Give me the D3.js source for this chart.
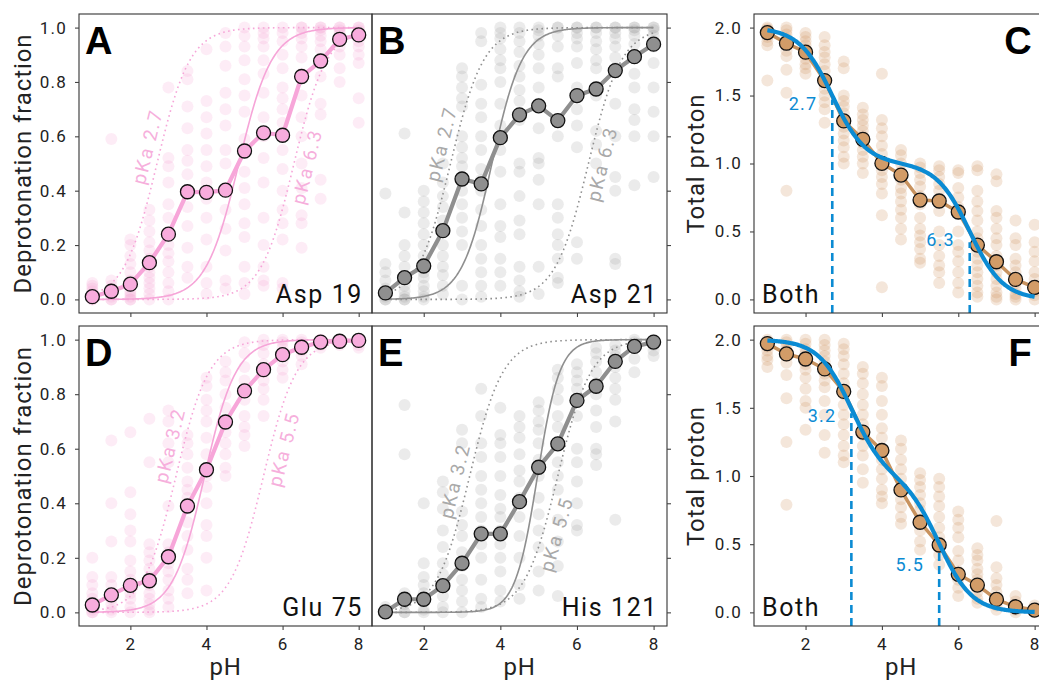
<!DOCTYPE html>
<html>
<head>
<meta charset="utf-8">
<script src="https://cdn.jsdelivr.net/npm/d3@7"></script>
<style>
  body { margin: 0; background: #fff; }
  text { font-family: Roboto, "Noto Sans", sans-serif; }
</style>
</head>
<body>
<div id="my_dataviz"></div>
<script>
// pH steps used in every panel
const phs = [1, 1.5, 2, 2.5, 3, 3.5, 4, 4.5, 5, 5.5, 6, 6.5, 7, 7.5, 8];

// mean values (big circles)
const meanAsp19 = [0.01, 0.03, 0.056, 0.135, 0.24, 0.396, 0.394, 0.402, 0.546, 0.613, 0.604, 0.82, 0.877, 0.957, 0.973];
const meanAsp21 = [0.024, 0.08, 0.123, 0.253, 0.443, 0.425, 0.595, 0.679, 0.712, 0.658, 0.75, 0.774, 0.842, 0.893, 0.939];
const meanBothTop = [1.963, 1.885, 1.819, 1.61, 1.313, 1.178, 1.001, 0.915, 0.731, 0.724, 0.643, 0.4, 0.277, 0.147, 0.088];
const meanGlu75 = [0.027, 0.064, 0.099, 0.116, 0.204, 0.39, 0.523, 0.698, 0.812, 0.89, 0.945, 0.972, 0.991, 0.994, 0.997];
const meanHis121 = [0.002, 0.048, 0.048, 0.098, 0.18, 0.288, 0.288, 0.406, 0.532, 0.618, 0.777, 0.829, 0.92, 0.975, 0.991];
const meanBothBottom = [1.971, 1.895, 1.858, 1.785, 1.62, 1.322, 1.187, 0.898, 0.661, 0.494, 0.279, 0.2, 0.095, 0.041, 0.017];

// individual replicate values, one list per pH
const rawAsp19 = [
  [0, 0, 0.01, 0.01, 0.02, 0.03, 0.04, 0.05, 0.06],
  [0, 0, 0.01, 0.02, 0.03, 0.05, 0.07, 0.59],
  [0, 0, 0.01, 0.02, 0.03, 0.05, 0.07, 0.1, 0.13, 0.16, 0.2, 0.22],
  [0, 0.02, 0.04, 0.06, 0.08, 0.1, 0.12, 0.15, 0.18, 0.21, 0.25, 0.29, 0.33],
  [0, 0.03, 0.06, 0.1, 0.14, 0.17, 0.2, 0.24, 0.3, 0.35, 0.43, 0.49, 0.52, 0.78],
  [0.08, 0.12, 0.19, 0.27, 0.34, 0.4, 0.46, 0.51, 0.55, 0.63, 0.71, 0.81, 0.84],
  [0.02, 0.06, 0.12, 0.22, 0.3, 0.37, 0.43, 0.49, 0.55, 0.61, 0.67, 0.73, 0.92],
  [0.04, 0.07, 0.18, 0.26, 0.33, 0.41, 0.5, 0.55, 0.64, 0.7, 0.76, 0.86, 0.93, 0.98],
  [0.02, 0.06, 0.12, 0.23, 0.28, 0.35, 0.41, 0.47, 0.59, 0.69, 0.75, 0.81, 0.88, 0.93, 0.97, 1.0],
  [0.05, 0.07, 0.12, 0.2, 0.3, 0.43, 0.52, 0.6, 0.67, 0.76, 0.83, 0.88, 0.93, 0.96, 0.98, 1.0],
  [0.04, 0.06, 0.22, 0.28, 0.33, 0.4, 0.48, 0.55, 0.65, 0.7, 0.74, 0.78, 0.85, 0.9, 0.95, 0.98, 1.0],
  [0.19, 0.28, 0.31, 0.41, 0.5, 0.6, 0.67, 0.75, 0.83, 0.89, 0.93, 0.96, 0.98, 1.0, 1.0],
  [0.37, 0.44, 0.68, 0.72, 0.82, 0.88, 0.92, 0.95, 0.97, 0.99, 1.0, 1.0],
  [0.8, 0.85, 0.9, 0.93, 0.96, 0.98, 0.99, 1.0, 1.0],
  [0.65, 0.74, 0.87, 0.9, 0.93, 0.95, 0.97, 0.98, 0.99, 1.0, 1.0]
];
const rawAsp21 = [
  [0, 0, 0.01, 0.02, 0.04, 0.07, 0.1, 0.13, 0.39],
  [0, 0, 0.01, 0.03, 0.05, 0.08, 0.12, 0.16, 0.2, 0.32, 0.61],
  [0, 0.01, 0.03, 0.05, 0.08, 0.1, 0.13, 0.16, 0.2, 0.24, 0.28, 0.32, 0.36, 0.4],
  [0.02, 0.05, 0.09, 0.12, 0.16, 0.2, 0.25, 0.29, 0.34, 0.38, 0.43, 0.5],
  [0, 0.05, 0.2, 0.25, 0.3, 0.35, 0.4, 0.45, 0.49, 0.52, 0.56, 0.6, 0.71, 0.74, 0.78, 0.82, 0.85],
  [0.01, 0.05, 0.1, 0.15, 0.2, 0.27, 0.33, 0.4, 0.44, 0.48, 0.55, 0.6, 0.67, 0.72, 0.79, 0.95, 0.98],
  [0.05, 0.1, 0.15, 0.23, 0.27, 0.35, 0.47, 0.55, 0.64, 0.72, 0.8, 0.85, 0.88, 0.92, 0.96, 0.98, 1.0],
  [0.01, 0.03, 0.07, 0.12, 0.24, 0.29, 0.38, 0.47, 0.5, 0.66, 0.73, 0.77, 0.82, 0.86, 0.91, 0.95, 0.98, 1.0],
  [0.02, 0.12, 0.35, 0.44, 0.5, 0.52, 0.63, 0.72, 0.78, 0.85, 0.9, 0.94, 0.97, 0.99, 1.0],
  [0.06, 0.08, 0.15, 0.2, 0.24, 0.3, 0.35, 0.6, 0.82, 0.85, 0.93, 0.97, 1.0, 1.0],
  [0.15, 0.21, 0.56, 0.64, 0.7, 0.78, 0.87, 0.93, 0.96, 0.98, 1.0, 1.0],
  [0.5, 0.57, 0.62, 0.75, 0.85, 0.88, 0.92, 0.95, 0.98, 1.0, 1.0],
  [0.13, 0.15, 0.4, 0.45, 0.6, 0.72, 0.85, 0.89, 0.93, 0.96, 0.98, 1.0, 1.0],
  [0.42, 0.6, 0.66, 0.7, 0.78, 0.83, 0.9, 0.94, 0.97, 0.99, 1.0, 1.0],
  [0.45, 0.6, 0.69, 0.78, 0.87, 0.93, 0.95, 0.97, 0.99, 1.0, 1.0]
];
const rawBothTop = [
  [1.61, 1.87, 1.9, 1.93, 1.96, 1.98, 1.99, 2.0],
  [0.8, 1.52, 1.69, 1.79, 1.83, 1.88, 1.92, 1.95, 1.98, 2.0],
  [1.66, 1.7, 1.73, 1.77, 1.8, 1.84, 1.87, 1.9, 1.93, 1.96],
  [1.3, 1.4, 1.45, 1.5, 1.55, 1.6, 1.68, 1.73, 1.78, 1.82, 1.87, 1.93],
  [1.0, 1.05, 1.12, 1.17, 1.22, 1.27, 1.32, 1.37, 1.42, 1.46, 1.5, 1.7, 1.75],
  [0.93, 1.0, 1.05, 1.1, 1.15, 1.2, 1.24, 1.28, 1.32, 1.36, 1.41],
  [0.09, 0.62, 0.78, 0.85, 0.9, 0.95, 1.01, 1.07, 1.13, 1.2, 1.26, 1.32, 1.66],
  [0.44, 0.52, 0.6, 0.66, 0.72, 0.78, 0.82, 0.88, 0.94, 1.0, 1.06, 1.1],
  [0.27, 0.3, 0.37, 0.42, 0.47, 0.52, 0.6, 0.7, 0.76, 0.83, 0.88, 0.93, 0.97, 1.0],
  [0.12, 0.2, 0.25, 0.32, 0.4, 0.5, 0.65, 0.72, 0.8, 0.85, 0.9, 0.95, 0.98],
  [0.05, 0.12, 0.2, 0.28, 0.35, 0.4, 0.5, 0.68, 0.75, 0.82, 0.93, 0.95],
  [0.02, 0.05, 0.1, 0.15, 0.2, 0.25, 0.3, 0.35, 0.4, 0.45, 0.5, 0.58, 0.65, 0.72, 0.8, 0.95, 0.98],
  [0, 0.02, 0.05, 0.1, 0.15, 0.2, 0.25, 0.32, 0.4, 0.45, 0.52, 0.6, 0.65, 0.87, 0.92],
  [0, 0.02, 0.04, 0.08, 0.12, 0.2, 0.25, 0.3, 0.4, 0.45, 0.58],
  [0, 0.03, 0.06, 0.1, 0.15, 0.2, 0.28, 0.35, 0.42, 0.55]
];
const rawGlu75 = [
  [0, 0, 0.01, 0.02, 0.03, 0.05, 0.07, 0.1, 0.13, 0.2],
  [0, 0.01, 0.03, 0.05, 0.07, 0.1, 0.13, 0.26, 0.4, 0.63],
  [0, 0.02, 0.05, 0.07, 0.1, 0.12, 0.15, 0.19, 0.26, 0.3, 0.36, 0.44, 0.66],
  [0, 0.01, 0.03, 0.05, 0.07, 0.1, 0.13, 0.16, 0.19, 0.22, 0.25, 0.55, 0.71],
  [0.02, 0.05, 0.08, 0.12, 0.15, 0.18, 0.22, 0.25, 0.39, 0.55, 0.62, 0.7, 0.74],
  [0.07, 0.12, 0.16, 0.23, 0.28, 0.33, 0.38, 0.42, 0.45, 0.48, 0.53, 0.58, 0.62, 0.65],
  [0.08, 0.2, 0.28, 0.32, 0.4, 0.46, 0.5, 0.58, 0.64, 0.7, 0.74, 0.78, 0.83, 0.86],
  [0.5, 0.53, 0.58, 0.62, 0.66, 0.7, 0.75, 0.8, 0.85, 0.88, 0.92],
  [0.61, 0.65, 0.68, 0.72, 0.78, 0.82, 0.85, 0.9, 0.95, 0.99],
  [0.72, 0.78, 0.82, 0.85, 0.88, 0.91, 0.95, 0.98, 1.0],
  [0.86, 0.89, 0.92, 0.95, 0.97, 0.99, 1.0],
  [0.91, 0.94, 0.96, 0.98, 0.99, 1.0],
  [0.97, 0.98, 0.99, 1.0, 1.0],
  [0.98, 0.99, 1.0, 1.0],
  [0.97, 0.98, 0.99, 1.0, 1.0]
];
const rawHis121 = [
  [0, 0, 0.01, 0.02],
  [0, 0, 0.03, 0.07, 0.58, 0.76],
  [0, 0.01, 0.04, 0.07, 0.1, 0.13, 0.18, 0.4],
  [0, 0.02, 0.06, 0.1, 0.14, 0.18, 0.24, 0.3, 0.38, 0.44, 0.48],
  [0, 0.04, 0.08, 0.12, 0.17, 0.22, 0.28, 0.32, 0.37, 0.62, 0.67],
  [0.02, 0.05, 0.12, 0.2, 0.25, 0.3, 0.35, 0.4, 0.45, 0.5, 0.57, 0.62, 0.72, 0.82],
  [0.04, 0.08, 0.15, 0.2, 0.25, 0.3, 0.35, 0.38, 0.43, 0.5, 0.57, 0.62, 0.65, 0.75],
  [0.05, 0.1, 0.2, 0.28, 0.35, 0.42, 0.48, 0.52, 0.58, 0.64, 0.68, 0.72],
  [0.08, 0.15, 0.24, 0.3, 0.36, 0.42, 0.5, 0.56, 0.62, 0.67, 0.7, 0.74, 0.77],
  [0.06, 0.17, 0.26, 0.34, 0.45, 0.5, 0.55, 0.62, 0.68, 0.72, 0.78, 0.82, 0.86, 0.89],
  [0.3, 0.32, 0.4, 0.48, 0.55, 0.6, 0.72, 0.78, 0.82, 0.85, 0.88, 0.91],
  [0.54, 0.58, 0.6, 0.68, 0.74, 0.8, 0.84, 0.88, 0.92, 0.95, 0.97],
  [0.34, 0.7, 0.78, 0.82, 0.86, 0.9, 0.94, 0.96, 0.98],
  [0.88, 0.93, 0.97, 0.99, 1.0],
  [0.94, 0.96, 0.98, 0.99, 1.0]
];
const rawBothBottom = [
  [1.8, 1.85, 1.88, 1.92, 1.95, 1.98, 2.0],
  [0.79, 1.25, 1.57, 1.74, 1.83, 1.88, 1.92, 1.95, 1.98, 2.0],
  [1.34, 1.5, 1.55, 1.64, 1.72, 1.78, 1.82, 1.86, 1.9, 1.93, 1.97, 2.0],
  [1.17, 1.3, 1.45, 1.55, 1.65, 1.7, 1.75, 1.8, 1.84, 1.88, 1.92, 1.96, 2.0],
  [1.1, 1.15, 1.22, 1.3, 1.38, 1.45, 1.52, 1.6, 1.68, 1.75, 1.82, 1.88, 1.93, 1.97],
  [0.95, 1.05, 1.15, 1.22, 1.3, 1.38, 1.45, 1.52, 1.6, 1.68, 1.75, 1.8],
  [0.8, 0.85, 0.9, 0.98, 1.05, 1.12, 1.2, 1.28, 1.35, 1.45, 1.55, 1.66, 1.72],
  [0.65, 0.7, 0.77, 0.83, 0.9, 0.98, 1.05, 1.12, 1.2, 1.26],
  [0.46, 0.52, 0.6, 0.68, 0.75, 0.8, 0.86, 0.92, 0.97, 1.02],
  [0.35, 0.42, 0.48, 0.55, 0.62, 0.7, 0.78, 0.85, 0.92, 0.98],
  [0.12, 0.18, 0.24, 0.3, 0.38, 0.45, 0.55, 0.62, 0.68, 0.74],
  [0.07, 0.1, 0.15, 0.2, 0.24, 0.28, 0.32, 0.38, 0.42, 0.47],
  [0.02, 0.05, 0.1, 0.15, 0.2, 0.25, 0.33, 0.67],
  [0, 0.02, 0.05, 0.08, 0.12],
  [0, 0.02, 0.05]
];

// pKa values of the dotted reference curves and blue model
const pkaTop = [2.7, 6.3];
const pkaBottom = [3.2, 5.5];
// single-site fits (solid thin curves): pKa and hill
const fitPka = [4.85, 3.78, 3.95, 4.97];
const fitHill = [1, 1.1, 1.05, 1.5];
// where the dashed pKa markers stop and their labels sit (total proton)
const dashTopC = [1.47, 0.42];
const dashLabelC = [1.44, 0.44];
const dashTopF = [1.46, 0.44];
const dashLabelF = [1.44, 0.35];
// level on the dotted curve where each "pKa" label sits
const pkaLabelLevel = [[0.55, 0.5], [0.56, 0.51], [0.6, 0.61], [0.47, 0.3]];

const tickFrac = [0, 0.2, 0.4, 0.6, 0.8, 1.0];
const tickProton = [0, 0.5, 1.0, 1.5, 2.0];
const tickPh = [2, 4, 6, 8];

const pink = { pt: "#f49fd4", line: "#f7a6d9", fill: "#f8acdd", curve: "#f6a5d8", label: "#f6afdc" };
const grey = { pt: "#9a9a9a", line: "#8f8f8f", fill: "#8f8f8f", curve: "#8f8f8f", label: "#a9a9a9" };
const brown = { pt: "#cf9863", line: "#c8925e", fill: "#d29c68" };
const blue = "#0b8bd3";

const W = 1039, H = 682;
const svg = d3.select("#my_dataviz").append("svg")
  .attr("width", W).attr("height", H)
  .style("background", "#fff");

const rows = [{ y0: 14, y1: 313 }, { y0: 326, y1: 626 }];
const cols = [{ x0: 79, x1: 372 }, { x0: 372, x1: 667 }, { x0: 754, x1: 1048 }];

const hill = (ph, pka, n) => 1 / (1 + Math.pow(10, n * (pka - ph)));
const curvePh = d3.range(1, 8.0001, 0.025);

function drawPanel(p) {
  const x = d3.scaleLinear().domain([0.65, 8.35]).range([p.col.x0, p.col.x1]);
  const ymax = p.proton ? 2 : 1;
  const y = d3.scaleLinear().domain([-0.05 * ymax, 1.05 * ymax]).range([p.row.y1, p.row.y0]);
  const g = svg.append("g");

  const clipId = "clip" + p.letter;
  g.append("clipPath").attr("id", clipId).append("rect")
    .attr("x", p.col.x0).attr("y", p.row.y0)
    .attr("width", p.col.x1 - p.col.x0).attr("height", p.row.y1 - p.row.y0);
  const plot = g.append("g").attr("clip-path", `url(#${clipId})`);

  // replicate points
  const flat = [];
  p.raw.forEach((vals, i) => vals.forEach(v => flat.push({ ph: phs[i], v: v })));
  plot.append("g").selectAll("circle").data(flat).join("circle")
    .attr("cx", d => x(d.ph)).attr("cy", d => y(d.v)).attr("r", 6)
    .attr("fill", p.theme.pt).attr("fill-opacity", p.proton ? 0.24 : 0.2);

  const line = d3.line().x(d => x(d[0])).y(d => y(d[1]));

  if (!p.proton) {
    // dotted reference curves
    p.pkas.forEach((pk, k) => {
      plot.append("path")
        .datum(curvePh.map(ph => [ph, hill(ph, pk, 1)]))
        .attr("d", line).attr("fill", "none")
        .attr("stroke", p.theme.curve).attr("stroke-width", 1.6)
        .attr("stroke-dasharray", "1.6,3.4");
      // label along the curve
      const lv = p.labelLevel[k];
      const lph = pk + Math.log10(lv / (1 - lv));
      const slope = Math.LN10 * lv * (1 - lv) * (y(0) - y(1)) / (x(1) - x(0));
      const ang = -Math.atan(slope) * 180 / Math.PI;
      plot.append("text")
        .attr("transform", `translate(${x(lph)},${y(lv)}) rotate(${ang})`)
        .attr("text-anchor", "middle")
        .attr("dy", k === 0 ? "-0.35em" : "1.05em")
        .attr("fill", p.theme.label)
        .style("font-size", "19px").style("letter-spacing", "1.8px")
        .text("pKa " + pk);
    });
    // single-site fit
    plot.append("path")
      .datum(curvePh.map(ph => [ph, hill(ph, p.fit[0], p.fit[1])]))
      .attr("d", line).attr("fill", "none")
      .attr("stroke", p.theme.curve).attr("stroke-width", 1.6);
  }

  // mean line and circles
  const means = p.mean.map((v, i) => [phs[i], v]);
  plot.append("path").datum(means).attr("d", line).attr("fill", "none")
    .attr("stroke", p.theme.line).attr("stroke-width", p.proton ? 3.5 : 4.2)
    .attr("stroke-linejoin", "round");
  plot.append("g").selectAll("circle").data(means).join("circle")
    .attr("cx", d => x(d[0])).attr("cy", d => y(d[1])).attr("r", 7)
    .attr("fill", p.theme.fill).attr("stroke", "#111").attr("stroke-width", 1.3);

  if (p.proton) {
    // dashed pKa markers
    p.pkas.forEach((pk, k) => {
      plot.append("line")
        .attr("x1", x(pk)).attr("x2", x(pk))
        .attr("y1", p.row.y1).attr("y2", y(p.dashTop[k]))
        .attr("stroke", blue).attr("stroke-width", 2.6)
        .attr("stroke-dasharray", "8,5");
      plot.append("text")
        .attr("x", x(pk) - 15).attr("y", y(p.dashLabel[k])).attr("dy", "0.36em")
        .attr("text-anchor", "end").attr("fill", blue)
        .style("font-size", "18px").style("letter-spacing", "1.2px")
        .text(pk);
    });
    // two-site model
    plot.append("path")
      .datum(curvePh.map(ph => [ph, 2 - hill(ph, p.pkas[0], 1) - hill(ph, p.pkas[1], 1)]))
      .attr("d", line).attr("fill", "none")
      .attr("stroke", blue).attr("stroke-width", 4.2);
  }

  // frame
  g.append("rect")
    .attr("x", p.col.x0).attr("y", p.row.y0)
    .attr("width", p.col.x1 - p.col.x0).attr("height", p.row.y1 - p.row.y0)
    .attr("fill", "none").attr("stroke", "#333").attr("stroke-width", 1.1);

  // axes
  const ticksY = p.proton ? tickProton : tickFrac;
  let yAxis;
  if (p.rightTicks) {
    yAxis = g.append("g").attr("transform", `translate(${p.col.x1},0)`)
      .call(d3.axisRight(y).tickValues(ticksY).tickSize(4).tickFormat(""));
  } else {
    yAxis = g.append("g").attr("transform", `translate(${p.col.x0},0)`)
      .call(d3.axisLeft(y).tickValues(ticksY).tickSize(4).tickPadding(8).tickFormat(d3.format(".1f")));
  }
  const xAxis = g.append("g").attr("transform", `translate(0,${p.row.y1})`)
    .call(d3.axisBottom(x).tickValues(tickPh).tickSize(4).tickPadding(8)
      .tickFormat(p.xLabels ? d3.format("d") : ""));
  [yAxis, xAxis].forEach(a => {
    a.select(".domain").remove();
    a.selectAll("line").attr("stroke", "#444").attr("stroke-width", 1.1);
    a.selectAll("text").attr("fill", "#222")
      .style("font-family", "Roboto, sans-serif")
      .style("font-size", "17px").style("letter-spacing", "1.2px");
  });

  // panel letter
  const letter = g.append("text")
    .attr("y", p.row.y0 + 40)
    .style("font-family", "'Liberation Sans', Arial, sans-serif")
    .style("font-weight", "bold").style("font-size", "38px")
    .attr("fill", "#000").text(p.letter);
  if (p.proton) letter.attr("x", x(8) - 3).attr("text-anchor", "end");
  else letter.attr("x", p.col.x0 + 6);

  // residue name
  const name = g.append("text")
    .attr("y", p.row.y1 - 10)
    .style("font-size", "25px").style("letter-spacing", "1.6px")
    .attr("fill", "#111").text(p.name);
  if (p.proton) name.attr("x", p.col.x0 + 8);
  else name.attr("x", p.col.x1 - 9).attr("text-anchor", "end");

  // axis titles
  if (p.xLabels) {
    g.append("text")
      .attr("x", (p.col.x0 + p.col.x1) / 2).attr("y", 675)
      .attr("text-anchor", "middle").attr("fill", "#222")
      .style("font-size", "24px").style("letter-spacing", "0.8px")
      .text("pH");
  }
  if (p.yTitle) {
    g.append("text")
      .attr("transform", `translate(${p.yTitleX},${(p.row.y0 + p.row.y1) / 2}) rotate(-90)`)
      .attr("text-anchor", "middle").attr("fill", "#222")
      .style("font-size", "24px").style("letter-spacing", "0.9px")
      .text(p.yTitle);
  }
}

const panelList = [
  { letter: "A", row: rows[0], col: cols[0], raw: rawAsp19, mean: meanAsp19, theme: pink, pkas: pkaTop,
    fit: [fitPka[0], fitHill[0]], labelLevel: pkaLabelLevel[0], name: "Asp 19", yTitle: "Deprotonation fraction", yTitleX: 31 },
  { letter: "B", row: rows[0], col: cols[1], raw: rawAsp21, mean: meanAsp21, theme: grey, pkas: pkaTop,
    fit: [fitPka[1], fitHill[1]], labelLevel: pkaLabelLevel[1], name: "Asp 21", rightTicks: true },
  { letter: "C", row: rows[0], col: cols[2], raw: rawBothTop, mean: meanBothTop, theme: brown, pkas: pkaTop,
    proton: true, dashTop: dashTopC, dashLabel: dashLabelC, name: "Both", yTitle: "Total proton", yTitleX: 704 },
  { letter: "D", row: rows[1], col: cols[0], raw: rawGlu75, mean: meanGlu75, theme: pink, pkas: pkaBottom,
    fit: [fitPka[2], fitHill[2]], labelLevel: pkaLabelLevel[2], name: "Glu 75", xLabels: true, yTitle: "Deprotonation fraction", yTitleX: 31 },
  { letter: "E", row: rows[1], col: cols[1], raw: rawHis121, mean: meanHis121, theme: grey, pkas: pkaBottom,
    fit: [fitPka[3], fitHill[3]], labelLevel: pkaLabelLevel[3], name: "His 121", rightTicks: true, xLabels: true },
  { letter: "F", row: rows[1], col: cols[2], raw: rawBothBottom, mean: meanBothBottom, theme: brown, pkas: pkaBottom,
    proton: true, dashTop: dashTopF, dashLabel: dashLabelF, name: "Both", xLabels: true, yTitle: "Total proton", yTitleX: 704 }
];

panelList.forEach(drawPanel);
</script>
</body>
</html>
